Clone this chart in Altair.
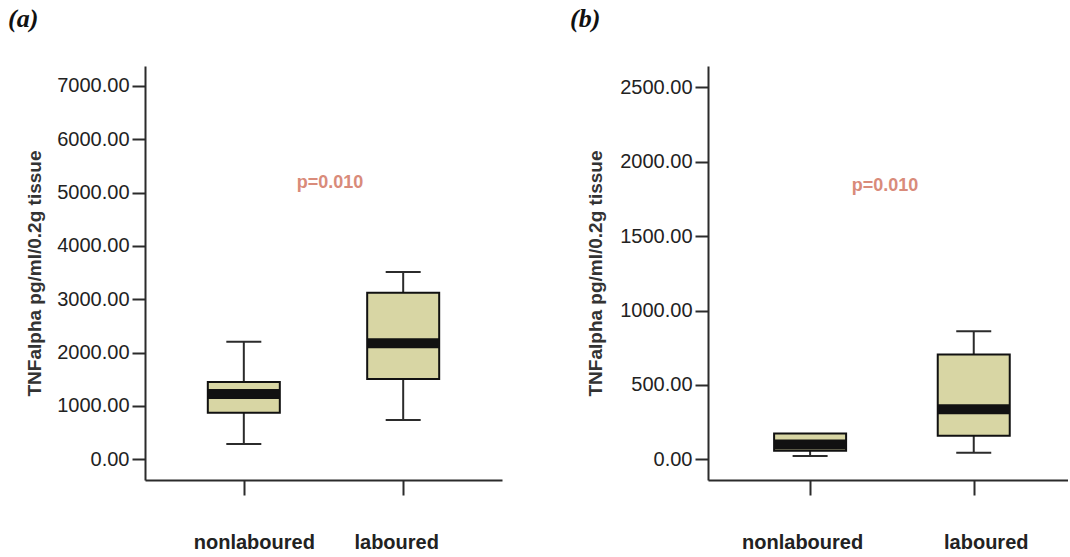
import altair as alt
import pandas as pd

groups = ["nonlaboured", "laboured"]

# panel (a) box-plot summaries
a_low = [287, 737]
a_q1 = [874, 1506]
a_med = [1225, 2175]
a_q3 = [1450, 3125]
a_high = [2206, 3513]
a_ticks = [0, 1000, 2000, 3000, 4000, 5000, 6000, 7000]

# panel (b) box-plot summaries
b_low = [22, 44]
b_q1 = [58, 159]
b_med = [100, 336]
b_q3 = [174, 705]
b_high = [174, 861]
b_ticks = [0, 500, 1000, 1500, 2000, 2500]

y_title = "TNFalpha pg/ml/0.2g tissue"
p_label = "p=0.010"

FONT = "Liberation Sans"
BOX_FILL = "#d8d6a4"
INK = "#2b2b2b"


def panel(tag, low, q1, med, q3, high, ticks, ydom, p_y, p_x, width,
          pad, align, extent, off_first, off_second, tag_x):
    df = pd.DataFrame({"group": groups, "low": low, "q1": q1, "med": med,
                       "q3": q3, "high": high})
    yscale = alt.Scale(domain=ydom, nice=False, zero=False)
    yaxis = alt.Axis(values=ticks, format=".2f", grid=False,
                     tickSize=13, tickWidth=2, tickColor=INK,
                     domainColor=INK, domainWidth=2,
                     labelFont=FONT, labelFontSize=20, labelColor="#222",
                     labelPadding=3, minExtent=extent, maxExtent=extent,
                     titleFont=FONT, titleFontSize=19, titleFontWeight="bold",
                     titleColor="#333", titlePadding=12)
    xenc = alt.X("group:N", sort=groups, title=None,
                 scale=alt.Scale(type="point", padding=pad, align=align),
                 axis=alt.Axis(domainColor=INK, domainWidth=2, tickColor=INK,
                               tickWidth=2, tickSize=15, labelAngle=0,
                               labelFont=FONT, labelFontSize=20,
                               labelFontWeight="bold", labelColor="#222",
                               labelPadding=37,
                               labelOffset={"condition": {"test": "datum.value === 'nonlaboured'",
                                                          "value": off_first},
                                            "value": off_second}))

    def Y(field):
        return alt.Y(field, type="quantitative", scale=yscale, axis=yaxis, title=y_title)

    base = alt.Chart(df)
    lower = base.mark_rule(color=INK, strokeWidth=2).encode(x=xenc, y=Y("low"), y2="q1")
    upper = base.mark_rule(color=INK, strokeWidth=2).encode(x=xenc, y=Y("q3"), y2="high")
    box = base.mark_bar(size=72, fill=BOX_FILL, stroke="#111", strokeWidth=2).encode(
        x=xenc, y=Y("q1"), y2="q3")
    median = base.mark_tick(size=72, thickness=10, color="#111", opacity=1).encode(
        x=xenc, y=Y("med"))
    cap_low = base.mark_tick(size=35, thickness=2, color=INK, opacity=1).encode(
        x=xenc, y=Y("low"))
    cap_high = base.transform_filter("datum.high > datum.q3").mark_tick(
        size=35, thickness=2, color=INK, opacity=1).encode(x=xenc, y=Y("high"))

    note = alt.Chart(pd.DataFrame({"t": [p_label]})).mark_text(
        font=FONT, fontSize=18, fontWeight="bold", color="#d98b7a",
        align="center", baseline="middle").encode(
        x=alt.value(p_x), y=alt.datum(p_y, scale=yscale), text="t:N")

    tag_mark = alt.Chart(pd.DataFrame({"t": [tag]})).mark_text(
        font="Liberation Serif", fontSize=26, fontWeight="bold", fontStyle="italic",
        color="#111", align="left", baseline="top").encode(
        x=alt.value(tag_x), y=alt.value(-60), text="t:N")

    return alt.layer(lower, upper, box, median, cap_low, cap_high, note, tag_mark).properties(
        width=width, height=414)


left = panel("(a)", a_low, a_q1, a_med, a_q3, a_high, a_ticks, [-388, 7375],
             5184, 185, 357, 0.62, 0.5, 89, 10, -7, -137)
right = panel("(b)", b_low, b_q1, b_med, b_q3, b_high, b_ticks, [-139, 2643],
              1834, 177, 360, 0.6, 0.52, 91, -8, 12, -138)

chart = alt.hconcat(left, right, spacing=68).properties(
    padding={"left": 8, "top": 6, "right": 0, "bottom": 0},
    background="white",
).configure_view(stroke=None)

chart.save("out.html", embed_options={"renderer": "svg", "actions": False})
